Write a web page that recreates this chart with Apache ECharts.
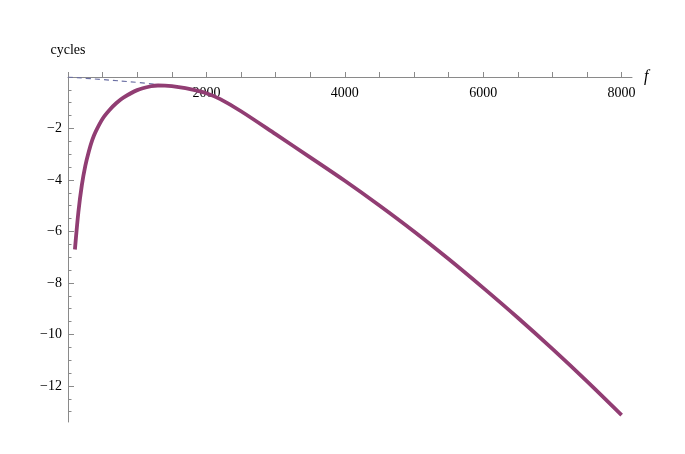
<!DOCTYPE html>
<html>
<head>
<meta charset="utf-8">
<script src="https://cdn.jsdelivr.net/npm/echarts@6/dist/echarts.min.js"></script>
<style>
html,body{margin:0;padding:0;background:#fff;}
#echarts{width:685px;height:454px;}
</style>
</head>
<body>
<div id="echarts"></div>
<script>
// values
var freq = [100, 150, 200, 250, 300, 350, 400, 500, 600, 700, 800, 1000, 1200, 1300, 1400, 1600, 1800, 2000, 2200,
            2500, 3000, 3500, 4000, 4500, 5000, 5500, 6000, 6500, 7000, 7500, 8000];
var cycles = [-6.7, -5.25, -4.2, -3.45, -2.9, -2.45, -2.12, -1.62, -1.28, -1.01, -0.8, -0.51, -0.36, -0.33, -0.335, -0.39, -0.49, -0.63, -0.86,
              -1.33, -2.22, -3.12, -4.03, -4.99, -6.0, -7.07, -8.19, -9.35, -10.56, -11.82, -13.13];
var dashFreq = [0, 500, 1000, 1350];
var dashCycles = [0, -0.1, -0.21, -0.31];
var xLabels = [2000, 4000, 6000, 8000];
var xTicks = [0, 500, 1000, 1500, 2000, 2500, 3000, 3500, 4000, 4500, 5000, 5500, 6000, 6500, 7000, 7500, 8000];
var yLabels = [-2, -4, -6, -8, -10, -12];
var yMinor = [-0.5, -1, -1.5, -2.5, -3, -3.5, -4.5, -5, -5.5, -6.5, -7, -7.5, -8.5, -9, -9.5, -10.5, -11, -11.5, -12.5, -13];

baidu_echarts();

function pairs(xs, ys){
	var out = [];
	for (var i = 0; i < xs.length; i++) out.push([xs[i], ys[i]]);
	return out;
}

function baidu_echarts(){
	var dom = document.getElementById("echarts");
	var myChart = echarts.init(dom);
	var font = 'Liberation Serif';
	var axisCol = '#8a8a8a';
	option = {
	    animation: false,
	    grid: {
	        left: 68,
	        top: 77,
	        width: 564,
	        height: 345
	    },
	    xAxis: {
	        type: 'value',
	        position: 'top',
	        min: 0,
	        max: 8150,
	        name: 'f',
	        nameLocation: 'end',
	        nameGap: 12,
	        nameTextStyle: {fontFamily: font, fontStyle: 'italic', fontSize: 16, color: '#000', verticalAlign: 'middle'},
	        axisLine: {onZero: false, lineStyle: {color: axisCol, width: 1}},
	        axisTick: {show: true, inside: false, length: 5, customValues: xTicks, lineStyle: {color: axisCol}},
	        axisLabel: {
	            customValues: xLabels, inside: true,
	            fontFamily: font, fontSize: 14, color: '#000', margin: 9,
	            formatter: function(v){ return String(v); }
	        },
	        splitLine: {show: false}
	    },
	    yAxis: [
	        {
	            type: 'value',
	            min: -13.4,
	            max: 0,
	            name: 'cycles',
	            nameLocation: 'end',
	            nameGap: 20,
	            nameTextStyle: {fontFamily: font, fontSize: 14, color: '#000', align: 'center'},
	            axisLine: {show: true, onZero: false, lineStyle: {color: axisCol, width: 1}},
	            axisTick: {show: true, inside: true, length: 6, customValues: yLabels, lineStyle: {color: axisCol}},
	            axisLabel: {
	                customValues: yLabels,
	                fontFamily: font, fontSize: 14, color: '#000', margin: 6,
	                formatter: function(v){ return String(v).replace('-', '\u2212'); }
	            },
	            splitLine: {show: false}
	        },
	        {
	            // minor ticks only
	            type: 'value',
	            min: -13.4,
	            max: 0,
	            position: 'left',
	            axisLine: {show: false, onZero: false},
	            axisTick: {show: true, inside: true, length: 3.5, customValues: yMinor, lineStyle: {color: axisCol}},
	            axisLabel: {show: false},
	            splitLine: {show: false}
	        }
	    ],
	    series: [
	        {
	            type: 'line',
	            data: pairs(dashFreq, dashCycles),
	            showSymbol: false,
	            smooth: true,
	            z: 1,
	            lineStyle: {color: '#6b6fa3', width: 1.2, type: [5, 4]}
	        },
	        {
	            type: 'line',
	            data: pairs(freq, cycles),
	            showSymbol: false,
	            smooth: 0.3,
	            z: 3,
	            lineStyle: {color: '#913d73', width: 3.8}
	        }
	    ]
	};
	if (option && typeof option === "object") {
	    myChart.setOption(option, true);
	}
}
</script>
</body>
</html>
